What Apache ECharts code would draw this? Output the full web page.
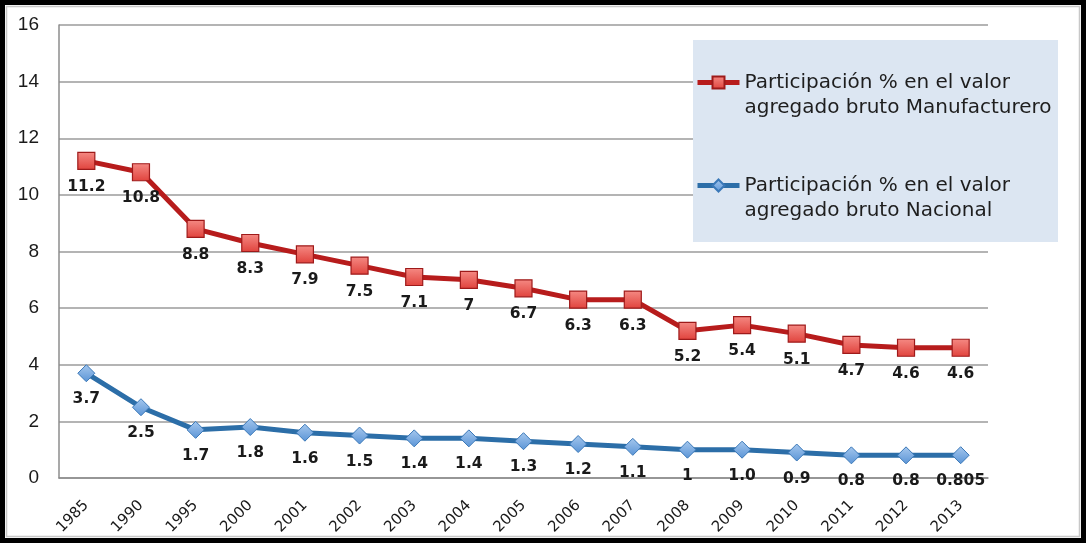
<!DOCTYPE html>
<html>
<head>
<meta charset="utf-8">
<script src="https://cdn.jsdelivr.net/npm/echarts@6/dist/echarts.min.js"></script>
<style>
  html, body { margin: 0; padding: 0; background: #ffffff; }
  #chart { width: 1087px; height: 544px; }
</style>
</head>
<body>
<div id="chart"></div>
<script>
// Years on the horizontal axis
const years = ['1985', '1990', '1995', '2000', '2001', '2002', '2003', '2004', '2005',
  '2006', '2007', '2008', '2009', '2010', '2011', '2012', '2013'];

// Share of gross value added, as printed in the data labels
const manufacturaLabels = ['11.2', '10.8', '8.8', '8.3', '7.9', '7.5', '7.1', '7', '6.7',
  '6.3', '6.3', '5.2', '5.4', '5.1', '4.7', '4.6', '4.6'];
const nacionalLabels = ['3.7', '2.5', '1.7', '1.8', '1.6', '1.5', '1.4', '1.4', '1.3',
  '1.2', '1.1', '1', '1.0', '0.9', '0.8', '0.8', '0.805'];

const yTicks = [0, 2, 4, 6, 8, 10, 12, 14, 16];

const nameManufactura = 'Participación % en el valor\nagregado bruto Manufacturero';
const nameNacional = 'Participación % en el valor\nagregado bruto Nacional';

// Each point carries its printed label text, and its value comes from that text
function toPoints(labels) {
  return labels.map(t => ({ value: Number(t), labelText: t }));
}

const labelStyle = {
  show: true,
  position: 'bottom',
  distance: 9,
  fontFamily: 'DejaVu Sans, sans-serif',
  fontWeight: 'bold',
  fontSize: 15.5,
  color: '#1a1a1a',
  formatter: p => p.data.labelText
};

const chart = echarts.init(document.getElementById('chart'), null, { renderer: 'canvas' });

chart.setOption({
  backgroundColor: '#ffffff',
  animation: false,
  grid: { left: 59, right: 99, top: 25, bottom: 66, containLabel: false },
  xAxis: {
    type: 'category',
    data: years,
    boundaryGap: true,
    axisLine: { show: true, lineStyle: { color: '#8c8c8c', width: 1.5 } },
    axisTick: { show: false },
    axisLabel: {
      rotate: 45,
      margin: 25,
      fontFamily: 'DejaVu Sans, sans-serif',
      fontSize: 15,
      color: '#1a1a1a'
    }
  },
  yAxis: {
    type: 'value',
    min: yTicks[0],
    max: yTicks[yTicks.length - 1],
    interval: 2,
    axisLine: { show: true, lineStyle: { color: '#8c8c8c', width: 1.5 } },
    axisTick: { show: false },
    axisLabel: {
      margin: 20,
      fontFamily: 'Liberation Sans, Arial, sans-serif',
      fontSize: 19,
      color: '#1a1a1a'
    },
    splitLine: { show: true, lineStyle: { color: '#b4b4b4', width: 2 } }
  },
  legend: {
    left: 690,
    top: 40,
    padding: 5,
    orient: 'vertical',
    itemWidth: 42,
    itemHeight: 15,
    itemGap: 28,
    z: 6,
    data: [nameManufactura, nameNacional],
    lineStyle: { width: 5 },
    // leading blank line keeps the symbol level with the first text line
    formatter: name => '\n' + name,
    textStyle: {
      fontFamily: 'DejaVu Sans, sans-serif',
      fontSize: 20,
      lineHeight: 25,
      color: '#1e1e1e'
    }
  },
  graphic: [
    {
      type: 'rect',
      z: 5,
      shape: { x: 693, y: 40, width: 365, height: 202 },
      style: { fill: '#dce6f2' }
    },
    {
      type: 'rect',
      z: 20,
      silent: true,
      shape: { x: 2.5, y: 2.5, width: 1081, height: 538 },
      style: { fill: 'none', stroke: '#000000', lineWidth: 5 }
    },
    {
      type: 'rect',
      z: 20,
      silent: true,
      shape: { x: 6.5, y: 6.5, width: 1073, height: 530 },
      style: { fill: 'none', stroke: '#c8c8c8', lineWidth: 1.5 }
    }
  ],
  series: [
    {
      name: nameManufactura,
      type: 'line',
      data: toPoints(manufacturaLabels),
      symbol: 'rect',
      symbolSize: 17,
      lineStyle: { color: '#b71c1c', width: 5 },
      itemStyle: {
        color: new echarts.graphic.LinearGradient(0, 0, 0, 1, [
          { offset: 0, color: '#f58a84' },
          { offset: 1, color: '#e0423c' }
        ]),
        borderColor: '#9e1a1a',
        borderWidth: 1.2
      },
      label: labelStyle,
      z: 3
    },
    {
      name: nameNacional,
      type: 'line',
      data: toPoints(nacionalLabels),
      symbol: 'diamond',
      symbolSize: 17,
      lineStyle: { color: '#2c6ea8', width: 5 },
      itemStyle: {
        color: new echarts.graphic.LinearGradient(0, 0, 0, 1, [
          { offset: 0, color: '#a6c8ee' },
          { offset: 1, color: '#5a94d6' }
        ]),
        borderColor: '#3a78b8',
        borderWidth: 1
      },
      label: labelStyle,
      z: 3
    }
  ]
});
</script>
</body>
</html>
